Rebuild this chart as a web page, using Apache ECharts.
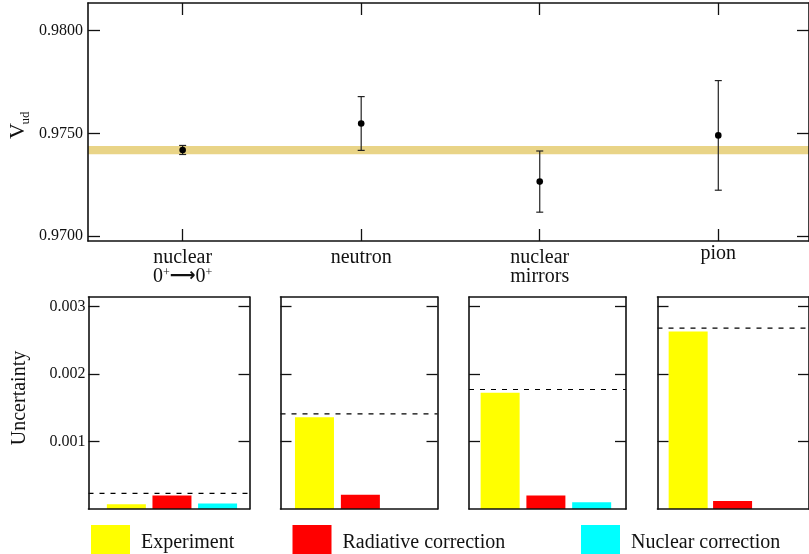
<!DOCTYPE html>
<html>
<head>
<meta charset="utf-8">
<script src="https://cdn.jsdelivr.net/npm/echarts@6/dist/echarts.min.js"></script>
<style>
  html, body { margin: 0; padding: 0; background: #fff; }
  #chart { width: 809px; height: 554px; }
</style>
</head>
<body>
<div id="chart"></div>
<script>
// Vud determinations by channel
const channels = ['nuclear\n0+→0+', 'neutron', 'nuclear\nmirrors', 'pion'];
const vud = [0.97419, 0.97548, 0.97265, 0.97490];
const vudErr = [0.00022, 0.00131, 0.00149, 0.00267];
const vudAverage = 0.97418;
const vudAverageErr = 0.00020;
const vudTicks = [0.9700, 0.9750, 0.9800];

// uncertainty budget per channel
const uncertaintyTicks = [0.001, 0.002, 0.003];
const experiment = [0.00007, 0.00136, 0.00172, 0.00263];
const radiative = [0.00020, 0.00021, 0.00020, 0.00012];
const nuclearCorr = [0.00008, null, 0.00010, null];
const totalUnc = [0.00023, 0.00141, 0.00177, 0.00268];
const budgetNames = ['Experiment', 'Radiative correction', 'Nuclear correction'];

const FONT = 'Liberation Serif';
const INK = '#111';
const budgetColors = ['#ffff00', '#ff0000', '#00ffff'];

// panel layout (pixels) and x extents for the bar slots
const panels = [
  { left: 88.5, width: 161, xMin: 0.17, xMax: 3.70 },
  { left: 280.5, width: 157, xMin: 0.26, xMax: 3.68 },
  { left: 469, width: 157, xMin: 0.32, xMax: 3.75 },
  { left: 657.5, width: 157, xMin: 0.31, xMax: 3.72 }
];

function channelLabel(value) {
  const name = channels[Math.round(value) - 1];
  if (!name) return '';
  const style = name === 'pion' ? 'lift' : 'a';
  return name.split('\n').map(line => {
    let out = '';
    for (const ch of line) {
      if (ch === '+') out += '{sup|+}';
      else if (ch === '→') out += '{arr|⟶}';
      else out += ch;
    }
    return out.split(/(\{[^}]*\})/).filter(s => s).map(s => s.startsWith('{') ? s : '{' + style + '|' + s + '}').join('');
  }).join('\n');
}

const frameLine = { show: true, onZero: false, lineStyle: { color: INK, width: 1.6 } };
const tickStyle = { color: INK, width: 1.3 };

const grids = [{ left: 88, top: 3, width: 724, height: 238 }];
panels.forEach(p => grids.push({ left: p.left, top: 297, width: p.width, height: 212 }));

const xAxes = [
  {
    type: 'value', gridIndex: 0, min: 0.47, max: 4.508, position: 'bottom', z: 5,
    axisLine: frameLine, splitLine: { show: false },
    axisTick: { inside: true, length: 12, lineStyle: tickStyle, customValues: [1, 2, 3, 4] },
    axisLabel: {
      customValues: [1, 2, 3, 4], margin: 7, formatter: channelLabel,
      rich: {
        a: { fontFamily: FONT, fontSize: 20, lineHeight: 19, color: INK },
        lift: { fontFamily: FONT, fontSize: 20, lineHeight: 11, color: INK },
        sup: { fontFamily: FONT, fontSize: 12, lineHeight: 8, verticalAlign: 'top', color: INK },
        arr: { fontFamily: 'DejaVu Sans', fontSize: 18, fontWeight: 'bold', lineHeight: 19, color: INK }
      }
    }
  },
  {
    type: 'value', gridIndex: 0, min: 0.47, max: 4.508, position: 'top', z: 5,
    axisLine: frameLine, splitLine: { show: false }, axisLabel: { show: false },
    axisTick: { inside: true, length: 12, lineStyle: tickStyle, customValues: [1, 2, 3, 4] }
  }
];
panels.forEach((p, i) => {
  ['bottom', 'top'].forEach(pos => xAxes.push({
    type: 'value', gridIndex: i + 1, min: p.xMin, max: p.xMax, position: pos, z: 5,
    axisLine: frameLine, splitLine: { show: false }, axisTick: { show: false }, axisLabel: { show: false }
  }));
});

const vudMin = 0.969756, vudMax = 0.981349;
const yAxes = [
  {
    type: 'value', gridIndex: 0, min: vudMin, max: vudMax, position: 'left', z: 5,
    axisLine: frameLine, splitLine: { show: false },
    axisTick: { inside: true, length: 12, lineStyle: tickStyle, customValues: vudTicks },
    axisLabel: {
      customValues: vudTicks, margin: 5, fontFamily: FONT, fontSize: 16, color: INK,
      formatter: v => v.toFixed(4)
    }
  },
  {
    type: 'value', gridIndex: 0, min: vudMin, max: vudMax, position: 'right', z: 5,
    axisLine: frameLine, splitLine: { show: false }, axisLabel: { show: false },
    axisTick: { inside: true, length: 12, lineStyle: tickStyle, customValues: vudTicks }
  }
];
panels.forEach((p, i) => {
  yAxes.push({
    type: 'value', gridIndex: i + 1, min: 0, max: 0.00314, position: 'left', z: 5,
    axisLine: frameLine, splitLine: { show: false },
    axisTick: { inside: true, length: 11, lineStyle: tickStyle, customValues: uncertaintyTicks },
    axisLabel: {
      show: i === 0, customValues: uncertaintyTicks, margin: 3,
      fontFamily: FONT, fontSize: 16, color: INK, formatter: v => v.toFixed(3)
    }
  });
  yAxes.push({
    type: 'value', gridIndex: i + 1, min: 0, max: 0.00314, position: 'right', z: 5,
    axisLine: frameLine, splitLine: { show: false }, axisLabel: { show: false },
    axisTick: { inside: true, length: 11, lineStyle: tickStyle, customValues: uncertaintyTicks }
  });
});

const series = [
  {
    // band of the average value
    type: 'custom', xAxisIndex: 0, yAxisIndex: 0, silent: true, z: 1,
    data: [[1, vudAverage, vudAverageErr]],
    encode: { x: 0, y: 1 },
    renderItem(params, api) {
      const cs = params.coordSys;
      const hi = api.coord([1, api.value(1) + api.value(2)]);
      const lo = api.coord([1, api.value(1) - api.value(2)]);
      return {
        type: 'rect',
        shape: { x: cs.x, y: hi[1], width: cs.width, height: lo[1] - hi[1] },
        style: { fill: '#e9d487' }
      };
    }
  },
  {
    // points with error bars
    type: 'custom', xAxisIndex: 0, yAxisIndex: 0, silent: true, z: 3,
    data: vud.map((v, i) => [i + 1, v, vudErr[i]]),
    encode: { x: 0, y: 1 },
    renderItem(params, api) {
      const x = api.value(0), v = api.value(1), e = api.value(2);
      const top = api.coord([x, v + e]);
      const bot = api.coord([x, v - e]);
      const mid = api.coord([x, v]);
      const cap = 3.5;
      const stroke = { stroke: '#222', lineWidth: 1.2 };
      return {
        type: 'group',
        children: [
          { type: 'line', shape: { x1: top[0], y1: top[1], x2: bot[0], y2: bot[1] }, style: stroke },
          { type: 'line', shape: { x1: top[0] - cap, y1: top[1], x2: top[0] + cap, y2: top[1] }, style: stroke },
          { type: 'line', shape: { x1: bot[0] - cap, y1: bot[1], x2: bot[0] + cap, y2: bot[1] }, style: stroke },
          { type: 'circle', shape: { cx: mid[0], cy: mid[1], r: 3.3 }, style: { fill: '#000' } }
        ]
      };
    }
  }
];

panels.forEach((p, i) => {
  const values = [experiment[i], radiative[i], nuclearCorr[i]];
  values.forEach((val, k) => {
    series.push({
      type: 'bar', name: budgetNames[k], xAxisIndex: 2 + 2 * i, yAxisIndex: 2 + 2 * i,
      barWidth: 39, barGap: '-100%', silent: true,
      itemStyle: { color: budgetColors[k] },
      data: val == null ? [] : [[k + 1, val]]
    });
  });
  // total uncertainty as a dashed level across the panel
  series.push({
    type: 'line', xAxisIndex: 2 + 2 * i, yAxisIndex: 2 + 2 * i, silent: true, z: 4,
    showSymbol: false, symbol: 'none',
    lineStyle: { type: [5, 6], color: '#000', width: 1.2 },
    data: [[p.xMin, totalUnc[i]], [p.xMax, totalUnc[i]]]
  });
});

const legendLefts = [91, 292.5, 581];
const legends = budgetNames.map((name, k) => ({
  data: [name], left: legendLefts[k], top: 525, padding: 0, itemGap: 0,
  icon: 'rect', itemWidth: 39, itemHeight: 35, selectedMode: false,
  textStyle: { fontFamily: FONT, fontSize: 20, color: INK, padding: [0, 0, 0, 6] }
}));

const chart = echarts.init(document.getElementById('chart'));
chart.setOption({
  animation: false,
  backgroundColor: '#fff',
  grid: grids,
  xAxis: xAxes,
  yAxis: yAxes,
  legend: legends,
  series: series,
  graphic: [
    { type: 'text', x: 18, y: 131, rotation: Math.PI / 2,
      style: { text: 'V', fontFamily: FONT, fontSize: 22, fill: INK, align: 'center', verticalAlign: 'middle' } },
    { type: 'text', x: 26, y: 118, rotation: Math.PI / 2,
      style: { text: 'ud', fontFamily: FONT, fontSize: 13, fill: INK, align: 'center', verticalAlign: 'middle' } },
    { type: 'text', x: 20, y: 398, rotation: Math.PI / 2,
      style: { text: 'Uncertainty', fontFamily: FONT, fontSize: 20, fill: INK, align: 'center', verticalAlign: 'middle' } }
  ]
});
</script>
</body>
</html>
